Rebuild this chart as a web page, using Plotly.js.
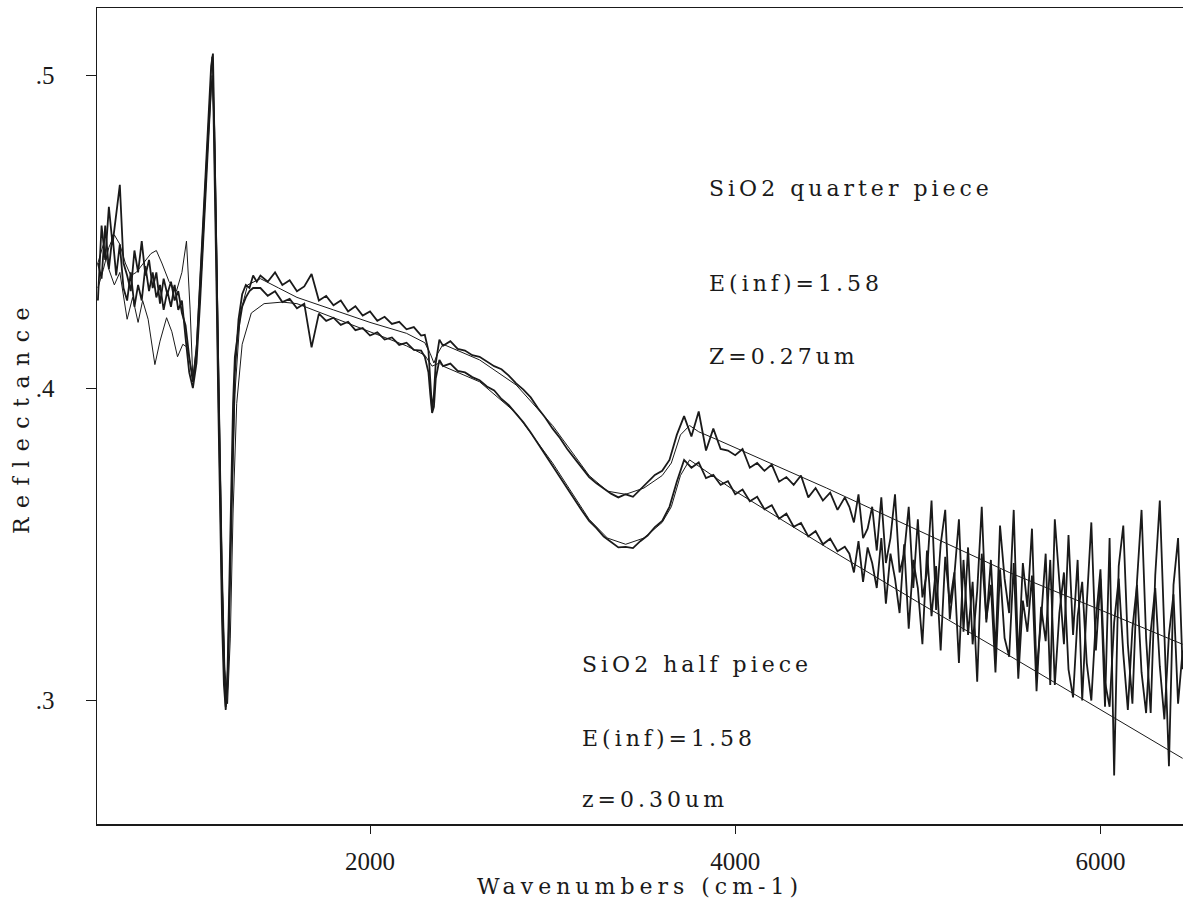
<!DOCTYPE html>
<html>
<head>
<meta charset="utf-8">
<script src="https://cdn.plot.ly/plotly-3.0.1.min.js"></script>
<style>
  html, body { margin: 0; padding: 0; background: #fff; }
  #chart { width: 1183px; height: 912px; }
  .annotation-text { letter-spacing: 4px; }
  .ytitle { letter-spacing: 9.5px; }
  .xtitle { letter-spacing: 5px; }
</style>
</head>
<body>
<div id="chart"></div>
<script>
// Wavenumber grid shared by the two measured spectra (cm-1)
const wavenumbers = [
  510,530,550,570,590,610,630,650,670,690,710,730,750,770,790,810,830,850,870,890,910,930,950,970,990,1010,1030,1050,1070,1090,
  1100,1110,1120,1130,1140,1150,1160,1170,1180,1190,1200,1210,1220,1230,1240,1250,1260,
  1280,1300,1320,1340,1360,1380,
  1400,1440,1480,1520,1560,1600,1640,1680,1720,1760,1800,1840,1880,1920,1960,2000,2040,2080,2120,2160,2200,2240,2280,
  2300,2320,2330,2340,2350,2360,2380,
  2400,2440,2480,2520,2560,2600,2640,2680,2720,2760,2800,2840,2880,2920,2960,3000,3040,3080,3120,3160,
  3200,3240,3280,3320,3360,3400,3440,3480,3520,3560,3600,3640,3680,3720,3760,3800,3840,3880,3920,3960,
  4000,4040,4080,4120,4160,4200,4240,4280,4320,4360,4400,4440,4480,4520,4560,4600,
  4625,4650,4675,4700,4725,4750,4775,4800,4825,4850,4875,4900,4925,4950,4975,5000,5025,5050,5075,5100,
  5125,5150,5175,5200,5225,5250,5275,5300,5325,5350,5375,5400,5425,5450,5475,5500,5525,5550,5575,5600,
  5625,5650,5675,5700,5725,5750,5775,5800,5825,5850,5875,5900,5925,5950,5975,6000,6025,6050,6075,6100,
  6125,6150,6175,6200,6225,6250,6275,6300,6325,6350,6375,6400,6425,6450
];

// SiO2 quarter piece, measured reflectance
const quarterMeasured = [
  0.428,0.452,0.441,0.458,0.446,0.455,0.465,0.440,0.436,0.431,0.444,0.437,0.447,0.436,0.441,0.432,0.437,0.427,0.435,0.430,0.434,0.428,0.431,0.424,0.420,0.410,0.402,0.412,0.435,0.455,
  0.468,0.480,0.492,0.503,0.507,0.478,0.440,0.400,0.365,0.335,0.312,0.298,0.305,0.330,0.362,0.388,0.405,
  0.422,0.430,0.433,0.432,0.436,0.434,
  0.436,0.434,0.437,0.433,0.4345,0.431,0.4325,0.4365,0.428,0.4295,0.4265,0.428,0.4245,0.4262,0.4232,0.4245,0.4215,0.4228,0.4205,0.4212,0.4188,0.4195,0.4168,
  0.417,0.412,0.403,0.393,0.398,0.408,0.4155,
  0.4135,0.4150,0.4125,0.4120,0.4105,0.4100,0.4085,0.4070,0.4060,0.4040,0.4015,0.3995,0.3970,0.3935,0.3905,0.3870,0.3840,0.3805,0.3775,0.3745,
  0.3715,0.3695,0.3678,0.3662,0.3650,0.3660,0.3652,0.3675,0.3700,0.3722,0.3735,0.3770,0.3850,0.3910,0.3845,0.3925,0.3800,0.3870,0.3805,0.3800,
  0.3785,0.3805,0.3745,0.3760,0.3735,0.3755,0.3700,0.3715,0.3690,0.3720,0.3650,0.3680,0.3640,0.3665,0.3610,0.3650,
  0.362,0.357,0.366,0.352,0.355,0.362,0.348,0.365,0.344,0.352,0.366,0.341,0.347,0.362,0.336,0.358,0.333,0.341,0.364,0.329,
  0.350,0.361,0.326,0.340,0.358,0.322,0.349,0.318,0.335,0.362,0.325,0.345,0.315,0.356,0.339,0.328,0.361,0.312,0.344,0.330,
  0.355,0.309,0.326,0.347,0.305,0.358,0.338,0.318,0.353,0.321,0.345,0.300,0.331,0.357,0.316,0.339,0.298,0.352,0.276,0.343,
  0.356,0.318,0.299,0.338,0.361,0.320,0.296,0.340,0.364,0.318,0.279,0.337,0.352,0.310
];

// SiO2 half piece, measured reflectance
const halfMeasured = [
  0.440,0.435,0.452,0.438,0.449,0.436,0.446,0.432,0.428,0.437,0.426,0.433,0.428,0.439,0.431,0.437,0.429,0.433,0.425,0.431,0.426,0.433,0.425,0.428,0.416,0.405,0.400,0.408,0.428,0.450,
  0.462,0.475,0.487,0.497,0.499,0.470,0.430,0.392,0.355,0.325,0.305,0.297,0.310,0.338,0.370,0.395,0.410,
  0.419,0.426,0.429,0.431,0.432,0.432,
  0.432,0.4295,0.431,0.4275,0.4285,0.4255,0.427,0.413,0.4238,0.4215,0.4225,0.4202,0.4212,0.4185,0.4192,0.4168,0.4178,0.4155,0.4162,0.4138,0.4145,0.4122,0.412,
  0.410,0.405,0.398,0.392,0.394,0.403,0.409,
  0.4070,0.4078,0.4055,0.4050,0.4035,0.4025,0.4005,0.3992,0.3965,0.3945,0.3918,0.3890,0.3858,0.3822,0.3785,0.3752,0.3712,0.3680,0.3640,0.3608,
  0.3575,0.3552,0.3525,0.3508,0.3490,0.3492,0.3488,0.3510,0.3528,0.3555,0.3575,0.3620,0.3700,0.3770,0.3745,0.3762,0.3712,0.3722,0.3690,0.3702,
  0.3660,0.3675,0.3638,0.3652,0.3612,0.3625,0.3582,0.3598,0.3556,0.3568,0.3525,0.3542,0.3500,0.3518,0.3478,0.3492,
  0.347,0.341,0.351,0.338,0.349,0.344,0.336,0.352,0.331,0.347,0.339,0.328,0.350,0.323,0.345,0.336,0.318,0.348,0.327,0.343,
  0.316,0.346,0.331,0.341,0.312,0.345,0.321,0.338,0.306,0.347,0.326,0.337,0.309,0.342,0.320,0.314,0.344,0.307,0.332,0.322,
  0.340,0.303,0.330,0.319,0.345,0.305,0.328,0.341,0.310,0.301,0.327,0.338,0.312,0.300,0.326,0.342,0.306,0.298,0.325,0.339,
  0.315,0.297,0.323,0.337,0.309,0.296,0.322,0.336,0.311,0.294,0.321,0.334,0.299,0.316
];

// Model fit, quarter piece (E(inf)=1.58, Z=0.27um)
const quarterFitX = [510,540,570,600,630,660,690,720,760,800,830,860,900,940,970,995,1015,1030,1050,1080,1110,1135,1150,1170,1190,1205,1215,1225,1240,1260,1290,1330,1400,1500,1600,1800,2000,2200,2300,2330,2350,2370,2400,2600,2800,3000,3200,3300,3400,3500,3600,3650,3700,3750,3800,3900,4500,5000,5500,6000,6450];
const quarterFitY = [0.432,0.438,0.445,0.449,0.446,0.440,0.436,0.437,0.440,0.443,0.444,0.440,0.434,0.431,0.437,0.447,0.425,0.403,0.414,0.448,0.482,0.506,0.482,0.405,0.340,0.308,0.300,0.312,0.358,0.398,0.424,0.433,0.435,0.432,0.429,0.425,0.421,0.4175,0.4145,0.411,0.408,0.411,0.414,0.409,0.401,0.388,0.372,0.367,0.366,0.368,0.372,0.376,0.385,0.388,0.386,0.3835,0.368,0.3545,0.341,0.329,0.318];

// Model fit, half piece (E(inf)=1.58, z=0.30um)
const halfFitX = [510,540,570,600,630,650,670,700,730,755,785,822,850,886,915,946,975,1000,1030,1050,1080,1110,1135,1150,1170,1190,1205,1220,1235,1250,1270,1300,1350,1420,1520,1600,1800,2000,2200,2300,2340,2380,2400,2600,2800,3000,3200,3300,3400,3500,3600,3650,3700,3750,4000,4500,5000,5500,6000,6450];
const halfFitY = [0.440,0.446,0.438,0.433,0.437,0.430,0.422,0.429,0.421,0.428,0.422,0.4075,0.415,0.4225,0.418,0.410,0.414,0.413,0.403,0.410,0.440,0.475,0.500,0.478,0.405,0.345,0.310,0.299,0.320,0.360,0.395,0.414,0.424,0.427,0.4275,0.427,0.4225,0.418,0.4135,0.4105,0.407,0.408,0.407,0.402,0.392,0.376,0.358,0.352,0.350,0.352,0.357,0.362,0.372,0.377,0.367,0.349,0.3315,0.3144,0.297,0.2815];

// Tick values / labels
const xTickVals = [2000, 4000, 6000];
const xTickText = ['2000', '4000', '6000'];
const yTickVals = [0.3, 0.4, 0.5];
const yTickText = ['.3', '.4', '.5'];

const ink = '#1a1a1a';
const serif = 'DejaVu Serif, serif';

const traces = [
  {x: wavenumbers, y: quarterMeasured, mode: 'lines', line: {color: ink, width: 1.8}, name: 'SiO2 quarter piece'},
  {x: wavenumbers, y: halfMeasured, mode: 'lines', line: {color: ink, width: 1.8}, name: 'SiO2 half piece'},
  {x: quarterFitX, y: quarterFitY, mode: 'lines', line: {color: ink, width: 1}, name: 'fit quarter'},
  {x: halfFitX, y: halfFitY, mode: 'lines', line: {color: ink, width: 1}, name: 'fit half'}
];

const annFont = {family: serif, size: 22, color: ink};
function note(x, y, text) {
  return {x: x, y: y, xref: 'x', yref: 'y', text: text, showarrow: false,
          xanchor: 'left', yanchor: 'middle', font: annFont};
}

const layout = {
  width: 1183, height: 912,
  margin: {l: 97, r: 0, t: 8, b: 88},
  paper_bgcolor: '#fff', plot_bgcolor: '#fff',
  showlegend: false,
  xaxis: {
    range: [505, 6452],
    tickvals: xTickVals, ticktext: xTickText,
    ticks: 'outside', ticklen: 8, tickwidth: 1, tickcolor: ink,
    ticklabelstandoff: 6,
    showline: true, linecolor: ink, linewidth: 1.5, mirror: true,
    showgrid: false, zeroline: false,
    tickfont: {family: 'Liberation Serif, serif', size: 25, color: ink},
    title: {text: 'Wavenumbers (cm-1)', font: {family: serif, size: 22, color: ink}, standoff: 4}
  },
  yaxis: {
    range: [0.2605, 0.5216],
    tickvals: yTickVals, ticktext: yTickText,
    ticks: 'outside', ticklen: 10, tickwidth: 1, tickcolor: ink,
    ticklabelstandoff: 26,
    showline: true, linecolor: ink, linewidth: 1.5, mirror: false,
    showgrid: false, zeroline: false,
    tickfont: {family: 'Liberation Serif, serif', size: 25, color: ink},
    title: {text: 'Reflectance', font: {family: serif, size: 22, color: ink}, standoff: 0}
  },
  annotations: [
    note(3846, 0.464, 'SiO2 quarter piece'),
    note(3846, 0.4336, 'E(inf)=1.58'),
    note(3846, 0.410, 'Z=0.27um'),
    note(3150, 0.3114, 'SiO2 half piece'),
    note(3150, 0.288, 'E(inf)=1.58'),
    note(3150, 0.2682, 'z=0.30um')
  ]
};

Plotly.newPlot('chart', traces, layout, {staticPlot: true, displayModeBar: false});
</script>
</body>
</html>
